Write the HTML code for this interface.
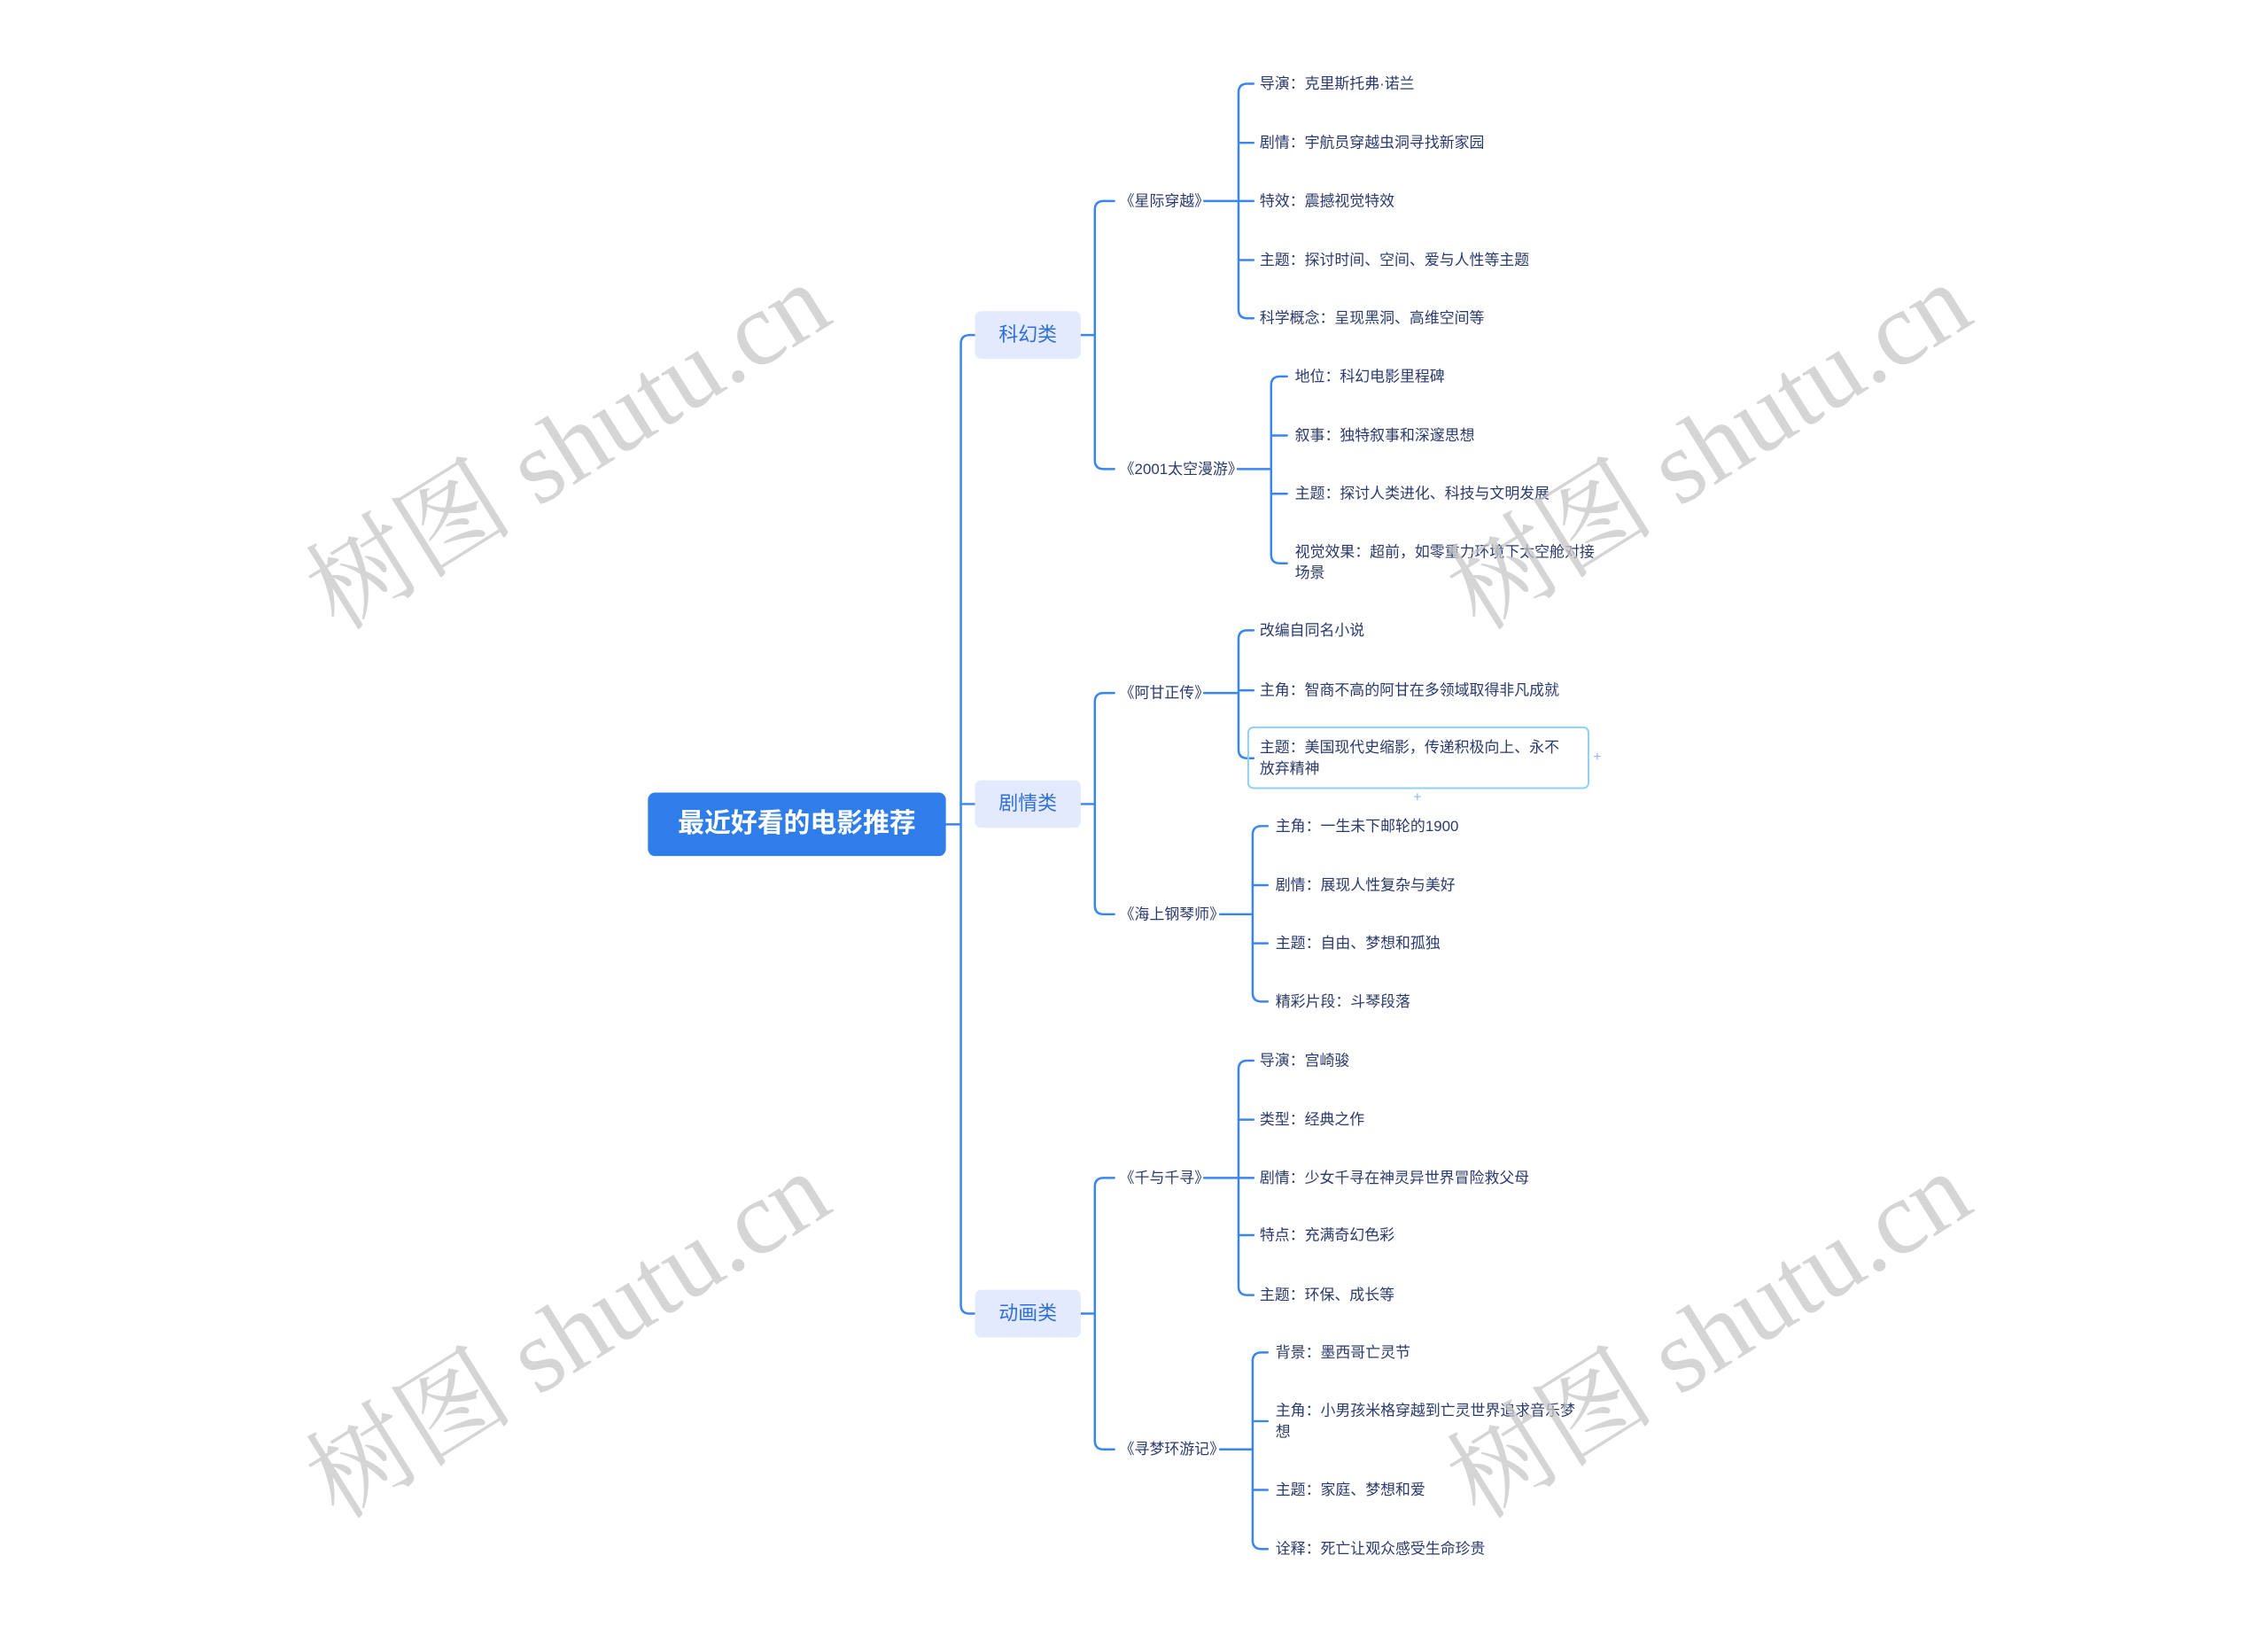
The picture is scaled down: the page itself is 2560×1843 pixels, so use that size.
<!DOCTYPE html>
<html><head><meta charset="utf-8"><style>
html,body{margin:0;padding:0;background:#fff;}
svg{display:block}
.l{font-family:"Liberation Sans","Noto Sans CJK SC",sans-serif;font-size:17px;fill:#2b3a6e;dominant-baseline:middle}
.c{fill:none;stroke:#3a86f0;stroke-width:2.5;stroke-linecap:round}
.wm{font-family:"Liberation Serif","Noto Serif CJK SC",serif;font-size:118px;fill:#c8c8c8;opacity:.75}
</style></head><body>
<svg width="2560" height="1843" viewBox="0 0 2560 1843" xmlns="http://www.w3.org/2000/svg">
<g transform="scale(0.995)">
<g class="c">
<path d="M1073 935 H1090 M1106 380 H1100 Q1090 380 1090 390 V1480 Q1090 1490 1100 1490 H1106 M1090 912 H1106"/>
<path d="M1226 380 H1242 M1264 228 H1252 Q1242 228 1242 238 V522 Q1242 532 1252 532 H1264"/>
<path d="M1226 912 H1242 M1264 786 H1252 Q1242 786 1242 796 V1027 Q1242 1037 1252 1037 H1264"/>
<path d="M1226 1490 H1242 M1264 1336 H1252 Q1242 1336 1242 1346 V1634 Q1242 1644 1252 1644 H1264"/>
<path d="M1366 228 H1422 M1422 95 H1415 Q1405 95 1405 105 V351 Q1405 361 1415 361 H1422 M1405 162 H1422 M1405 295 H1422"/>
<path d="M1404 532 H1442 M1460 427 H1452 Q1442 427 1442 437 V629 Q1442 639 1452 639 H1460 M1442 494 H1460 M1442 560 H1460"/>
<path d="M1366 786 H1405 M1422 715 H1415 Q1405 715 1405 725 V850 Q1405 860 1415 860 H1422 M1405 783 H1422"/>
<path d="M1384 1037 H1421 M1438 937 H1431 Q1421 937 1421 947 V1126 Q1421 1136 1431 1136 H1438 M1421 1004 H1438 M1421 1070 H1438"/>
<path d="M1366 1336 H1422 M1422 1203 H1415 Q1405 1203 1405 1213 V1459 Q1405 1469 1415 1469 H1422 M1405 1270 H1422 M1405 1401 H1422"/>
<path d="M1384 1644 H1421 M1438 1534 H1431 Q1421 1534 1421 1544 V1747 Q1421 1757 1431 1757 H1438 M1421 1612 H1438 M1421 1690 H1438"/>
</g>

<rect x="735" y="899" width="338" height="72" rx="8" fill="#2f7de9"/>
<text x="904" y="936" text-anchor="middle" dominant-baseline="middle" font-family="Liberation Sans,Noto Sans CJK SC,sans-serif" font-size="30" font-weight="bold" fill="#fff">最近好看的电影推荐</text>

<g font-family="Liberation Sans,Noto Sans CJK SC,sans-serif" font-size="22" fill="#2f6fd6" text-anchor="middle" dominant-baseline="middle">
<rect x="1106" y="353" width="120" height="54" rx="7" fill="#e3eafd"/>
<text x="1166" y="381">科幻类</text>
<rect x="1106" y="885" width="120" height="54" rx="7" fill="#e3eafd"/>
<text x="1166" y="913">剧情类</text>
<rect x="1106" y="1463" width="120" height="54" rx="7" fill="#e3eafd"/>
<text x="1166" y="1491">动画类</text>
</g>

<text class="l" x="1270" y="229">《星际穿越》</text>
<text class="l" x="1270" y="533">《2001太空漫游》</text>
<text class="l" x="1270" y="787">《阿甘正传》</text>
<text class="l" x="1270" y="1038">《海上钢琴师》</text>
<text class="l" x="1270" y="1337">《千与千寻》</text>
<text class="l" x="1270" y="1645">《寻梦环游记》</text>

<text class="l" x="1429" y="96">导演：克里斯托弗·诺兰</text>
<text class="l" x="1429" y="163">剧情：宇航员穿越虫洞寻找新家园</text>
<text class="l" x="1429" y="229">特效：震撼视觉特效</text>
<text class="l" x="1429" y="296">主题：探讨时间、空间、爱与人性等主题</text>
<text class="l" x="1429" y="362">科学概念：呈现黑洞、高维空间等</text>

<text class="l" x="1469" y="428">地位：科幻电影里程碑</text>
<text class="l" x="1469" y="495">叙事：独特叙事和深邃思想</text>
<text class="l" x="1469" y="561">主题：探讨人类进化、科技与文明发展</text>
<text class="l" x="1469" y="627">视觉效果：超前，如零重力环境下太空舱对接</text>
<text class="l" x="1469" y="651">场景</text>

<text class="l" x="1429" y="716">改编自同名小说</text>
<text class="l" x="1429" y="784">主角：智商不高的阿甘在多领域取得非凡成就</text>
<rect x="1416" y="825" width="386" height="69" rx="6" fill="none" stroke="#8fd0f5" stroke-width="2"/>
<text class="l" x="1429" y="849">主题：美国现代史缩影，传递积极向上、永不</text>
<text class="l" x="1429" y="873">放弃精神</text>
<text x="1812" y="859" font-family="Liberation Sans,sans-serif" font-size="16" fill="#8fb8f0" text-anchor="middle" dominant-baseline="middle">+</text>
<text x="1608" y="905" font-family="Liberation Sans,sans-serif" font-size="16" fill="#8fb8f0" text-anchor="middle" dominant-baseline="middle">+</text>

<text class="l" x="1447" y="938">主角：一生未下邮轮的1900</text>
<text class="l" x="1447" y="1005">剧情：展现人性复杂与美好</text>
<text class="l" x="1447" y="1071">主题：自由、梦想和孤独</text>
<text class="l" x="1447" y="1137">精彩片段：斗琴段落</text>

<text class="l" x="1429" y="1204">导演：宫崎骏</text>
<text class="l" x="1429" y="1271">类型：经典之作</text>
<text class="l" x="1429" y="1337">剧情：少女千寻在神灵异世界冒险救父母</text>
<text class="l" x="1429" y="1402">特点：充满奇幻色彩</text>
<text class="l" x="1429" y="1470">主题：环保、成长等</text>

<text class="l" x="1447" y="1535">背景：墨西哥亡灵节</text>
<text class="l" x="1447" y="1601">主角：小男孩米格穿越到亡灵世界追求音乐梦</text>
<text class="l" x="1447" y="1625">想</text>
<text class="l" x="1447" y="1691">主题：家庭、梦想和爱</text>
<text class="l" x="1447" y="1758">诠释：死亡让观众感受生命珍贵</text>
</g>

<text class="wm" transform="translate(648,515) rotate(-32)" text-anchor="middle" dominant-baseline="middle">树图 shutu.cn</text>
<text class="wm" transform="translate(1936,515) rotate(-32)" text-anchor="middle" dominant-baseline="middle">树图 shutu.cn</text>
<text class="wm" transform="translate(648,1518) rotate(-32)" text-anchor="middle" dominant-baseline="middle">树图 shutu.cn</text>
<text class="wm" transform="translate(1936,1518) rotate(-32)" text-anchor="middle" dominant-baseline="middle">树图 shutu.cn</text>
</svg>
</body></html>
